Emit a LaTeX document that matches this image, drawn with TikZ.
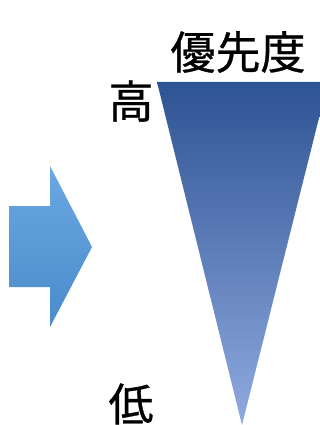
\documentclass[tikz,border=0pt]{standalone}
\usepackage{fontspec}
\newfontfamily\jpfont[FakeBold=0.7]{Noto Sans CJK JP}
\usepackage{xcolor}

\definecolor{arrowtop}{HTML}{6AA8E0}
\definecolor{arrowbot}{HTML}{4A8BCB}
\definecolor{prioTop}{HTML}{2E5393}
\definecolor{prioMid}{HTML}{4A74C9}
\definecolor{prioBot}{HTML}{8FAAE0}

\begin{document}
\begin{tikzpicture}[x=1pt,y=-1pt,jplabel/.style={font=\jpfont\fontsize{45}{45}\selectfont,inner sep=0pt}]
        \useasboundingbox (0,0) rectangle (320,425);

        % the block arrow on the left
        \shade[top color=arrowtop,bottom color=arrowbot]
            (9,206) -- (50,206) -- (50,166) -- (92,247) -- (50,327) -- (50,287) -- (9,287) -- cycle;

        % the priority wedge
        \shade[top color=prioTop,middle color=prioMid,bottom color=prioBot]
            (157,82) -- (328,82) -- (242,425) -- cycle;

        % the labels
        \node[jplabel] (prio) at (238,52) {優先度};
        \node[jplabel] (high) at (131,101) {高};
        \node[jplabel] (low)  at (131,404) {低};
    \end{tikzpicture}
\end{document}
